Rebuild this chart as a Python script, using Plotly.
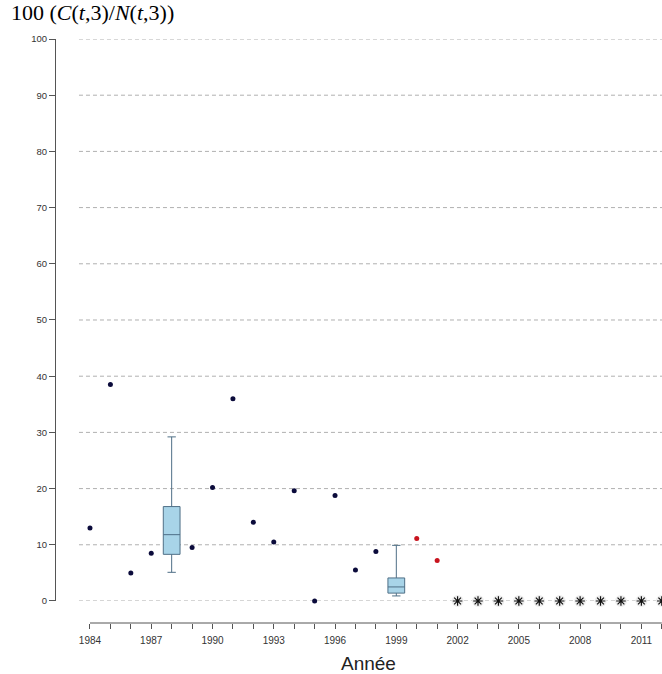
import plotly.graph_objects as go

# ---- data ----
dot_years = [1984, 1985, 1986, 1987, 1989, 1990, 1991, 1992, 1993, 1994, 1995, 1996, 1997, 1998]
dot_values = [13.0, 38.5, 5.0, 8.5, 9.5, 20.2, 36.0, 14.0, 10.5, 19.6, 0.0, 18.75, 5.5, 8.8]

box_years = [1988, 1999]
box_lower = [5.1, 0.9]
box_q1 = [8.3, 1.4]
box_median = [11.8, 2.5]
box_q3 = [16.8, 4.1]
box_upper = [29.2, 9.9]

red_years = [2000, 2001]
red_values = [11.1, 7.2]

star_years = [2002, 2003, 2004, 2005, 2006, 2007, 2008, 2009, 2010, 2011, 2012]
star_values = [0] * len(star_years)

y_ticks = [0, 10, 20, 30, 40, 50, 60, 70, 80, 90, 100]
x_ticks = list(range(1984, 2013))
x_labels = [str(y) if (y - 1984) % 3 == 0 else "" for y in x_ticks]

fig = go.Figure()

fig.add_trace(go.Box(
    x=box_years, lowerfence=box_lower, q1=box_q1, median=box_median,
    q3=box_q3, upperfence=box_upper, width=0.82, whiskerwidth=0.5,
    fillcolor="#a8d4e8", line=dict(color="#4f6f86", width=1),
    boxpoints=False, showlegend=False, hoverinfo="skip"))

fig.add_trace(go.Scatter(
    x=dot_years, y=dot_values, mode="markers", cliponaxis=False,
    marker=dict(color="#0b0b3b", size=5), showlegend=False))

fig.add_trace(go.Scatter(
    x=red_years, y=red_values, mode="markers", cliponaxis=False,
    marker=dict(color="#c8141e", size=5), showlegend=False))

fig.add_trace(go.Scatter(
    x=star_years, y=star_values, mode="markers", cliponaxis=False,
    marker=dict(color="#eeeeee", size=12, symbol="circle"), showlegend=False))
fig.add_trace(go.Scatter(
    x=star_years, y=star_values, mode="markers", cliponaxis=False,
    marker=dict(symbol="asterisk-open", size=8, color="#111111",
                line=dict(color="#111111", width=1.2)),
    showlegend=False))

shapes = []
for v in y_ticks:
    shapes.append(dict(type="line", xref="x domain", yref="y", x0=0, x1=1, y0=v, y1=v,
                       line=dict(color="#b0b0b0", width=1, dash="4px,3px"), layer="below"))
shapes.append(dict(type="line", xref="x", yref="paper", x0=x_ticks[0], x1=x_ticks[-1], y0=0, y1=0,
                   line=dict(color="#555555", width=1)))

fig.update_layout(
    width=662, height=674,
    margin=dict(l=55, r=0, t=39, b=51),
    paper_bgcolor="white", plot_bgcolor="white",
    shapes=shapes,
    xaxis=dict(domain=[0.0395, 1], range=[1983.461, 2012.01], anchor="free", position=0,
               tickvals=x_ticks, ticktext=x_labels, ticks="outside", ticklen=5,
               tickcolor="#555555", showline=False, showgrid=False, zeroline=False,
               ticklabelstandoff=3,
               tickfont=dict(family="Liberation Sans, Arial", size=10, color="#333333")),
    yaxis=dict(domain=[0.0377, 1], range=[0, 100], anchor="free", position=0,
               tickvals=y_ticks, ticks="outside", ticklen=6, tickcolor="#555555",
               showline=True, linecolor="#555555", linewidth=1,
               showgrid=False, zeroline=False,
               tickfont=dict(family="Liberation Sans, Arial", size=9.5, color="#333333")),
    annotations=[
        dict(text="100 (<i>C</i>(<i>t</i>,3)/<i>N</i>(<i>t</i>,3))", xref="paper", yref="paper",
             x=-0.0758, y=1.0454, xanchor="left", yanchor="middle", showarrow=False,
             font=dict(family="Liberation Serif, Times New Roman", size=22, color="black")),
        dict(text="Année", xref="paper", yref="paper", x=0.517, y=-0.0685,
             xanchor="center", yanchor="middle", showarrow=False,
             font=dict(family="Liberation Sans, Arial", size=19, color="#222222")),
    ],
)

fig.write_html("out.html", config={"displayModeBar": False},
               post_script="document.body.style.margin='0';document.body.style.overflow='hidden';")
